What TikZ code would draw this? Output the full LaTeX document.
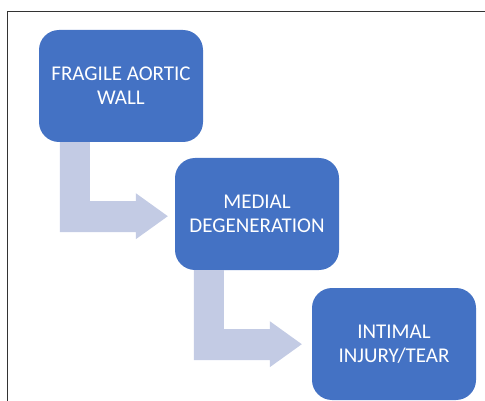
\documentclass[tikz,border=0pt]{standalone}
\usepackage{fontspec}
\setmainfont{Carlito}
\usetikzlibrary{calc}
\definecolor{boxblue}{HTML}{4472C4}
\definecolor{arrowgrey}{HTML}{C3CBE4}
\tikzset{
  stepbox/.style={rectangle, rounded corners=20pt, fill=boxblue, text=white,
    minimum width=164pt, minimum height=112pt, align=center,
    font=\fontsize{21}{24}\selectfont},
  bentarrow/.pic={
    \fill[arrowgrey] (0,0) -- (30,0) -- (30,59) -- (76,59) -- (76,51)
      -- (108,74) -- (76,97) -- (76,90) -- (0,90) -- cycle;
  }
}
\begin{document}
\begin{tikzpicture}[x=1pt,y=-1pt]
  \useasboundingbox (0,0) rectangle (485,401);
  % frame
  \draw[black!80, line width=1pt] (7,401) -- (7,12) -- (485,12);
  % boxes
  \node[stepbox] (fragile) at (121,86) {FRAGILE AORTIC\\WALL};
  \node[stepbox] (medial) at (257,214) {MEDIAL\\DEGENERATION};
  \node[stepbox] (intimal) at (394,344) {INTIMAL\\INJURY/TEAR};
  % arrows
  \pic at ($(fragile.south west)+(21,0)$) {bentarrow};
  \pic at ($(medial.south west)+(19,0)$) {bentarrow};
\end{tikzpicture}
\end{document}
